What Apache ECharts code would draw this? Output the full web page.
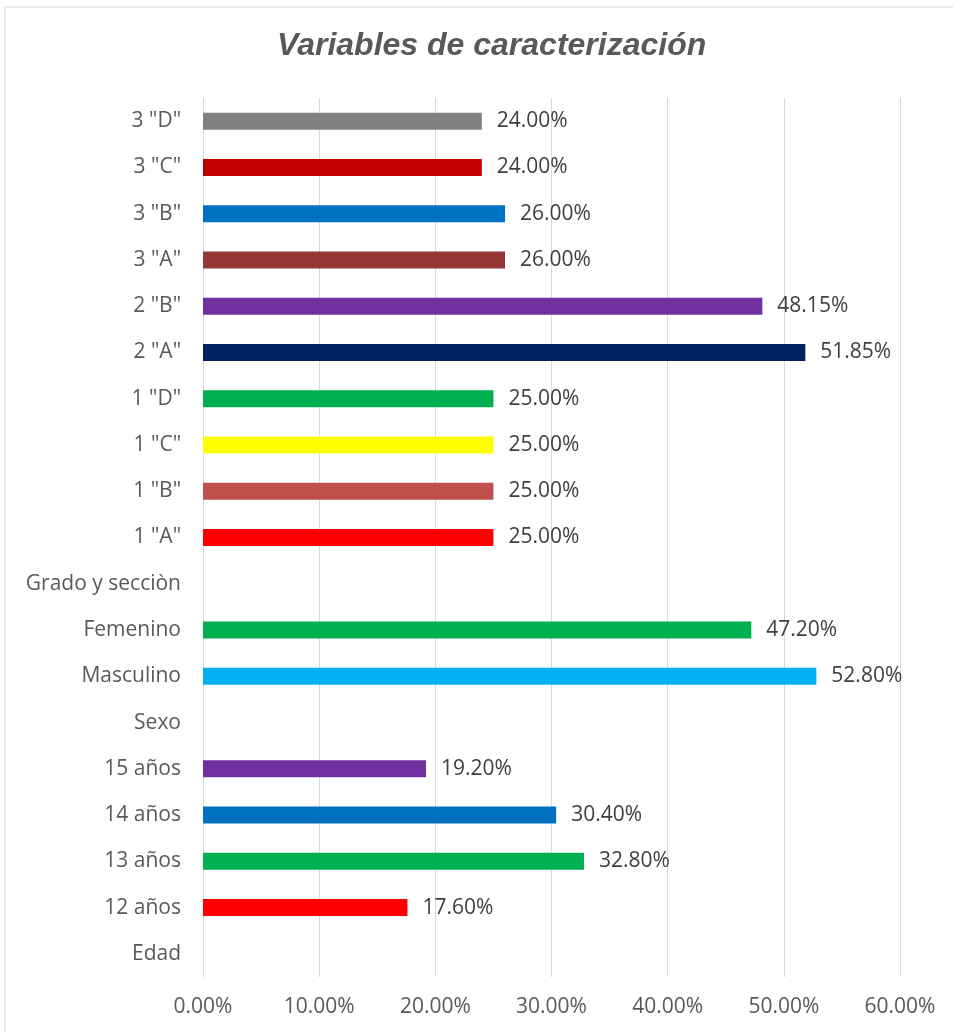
<!DOCTYPE html>
<html>
<head>
<meta charset="utf-8">
<script src="https://cdn.jsdelivr.net/npm/echarts@6/dist/echarts.min.js"></script>
<style>
  html, body { margin: 0; padding: 0; background: #fff; }
  #chart { width: 953px; height: 1032px; }
</style>
</head>
<body>
<div id="chart"></div>
<script>
// categories from bottom to top
var categories = ['Edad', '12 años', '13 años', '14 años', '15 años', 'Sexo', 'Masculino', 'Femenino',
  'Grado y secciòn', '1 "A"', '1 "B"', '1 "C"', '1 "D"', '2 "A"', '2 "B"', '3 "A"', '3 "B"', '3 "C"', '3 "D"']
var values = [null, 17.6, 32.8, 30.4, 19.2, null, 52.8, 47.2, null, 25, 25, 25, 25, 51.85, 48.15, 26, 26, 24, 24]
var barColors = ['#000000', '#FF0000', '#00B050', '#0070C0', '#7030A0', '#000000', '#00B0F0', '#00B050',
  '#000000', '#FF0000', '#C0504D', '#FFFF00', '#00B050', '#002060', '#7030A0', '#953735', '#0070C0', '#C00000', '#808080']
var xTicks = [0, 10, 20, 30, 40, 50, 60]

var myChart = echarts.init(document.getElementById('chart'))
var seriesData = values.map(function(v, i) {
  return { value: v, itemStyle: { color: barColors[i] } }
})
var option = {
  animation: false,
  backgroundColor: '#fff',
  title: {
    text: 'Variables de caracterización',
    left: 272,
    top: 25,
    textStyle: {
      fontFamily: 'Liberation Sans',
      fontStyle: 'italic',
      fontWeight: 'bold',
      fontSize: 32,
      color: '#595959'
    }
  },
  graphic: [{
    type: 'rect',
    shape: { x: 5, y: 7, width: 960, height: 1040 },
    style: { fill: 'none', stroke: '#d9d9d9', lineWidth: 1 },
    silent: true
  }],
  grid: { left: 203, right: 53, top: 98, bottom: 55 },
  xAxis: {
    type: 'value',
    min: xTicks[0],
    max: xTicks[xTicks.length - 1],
    interval: 10,
    axisLine: { show: false },
    axisTick: { show: false },
    splitLine: { lineStyle: { color: '#d9d9d9', width: 1 } },
    axisLabel: {
      margin: 20,
      fontFamily: 'Open Sans',
      fontSize: 21,
      color: '#595959',
      formatter: function(v) { return v.toFixed(2) + '%' }
    }
  },
  yAxis: {
    type: 'category',
    data: categories,
    axisLine: { show: true, lineStyle: { color: '#d9d9d9' } },
    axisTick: { show: false },
    axisLabel: {
      margin: 22,
      fontFamily: 'Open Sans',
      fontSize: 21,
      color: '#595959'
    }
  },
  series: [{
    type: 'bar',
    data: seriesData,
    barWidth: 17,
    label: {
      show: true,
      position: 'right',
      distance: 15,
      fontFamily: 'Open Sans',
      fontSize: 21,
      color: '#404040',
      formatter: function(p) { return p.value == null ? '' : p.value.toFixed(2) + '%' }
    }
  }]
}
myChart.setOption(option)
</script>
</body>
</html>
